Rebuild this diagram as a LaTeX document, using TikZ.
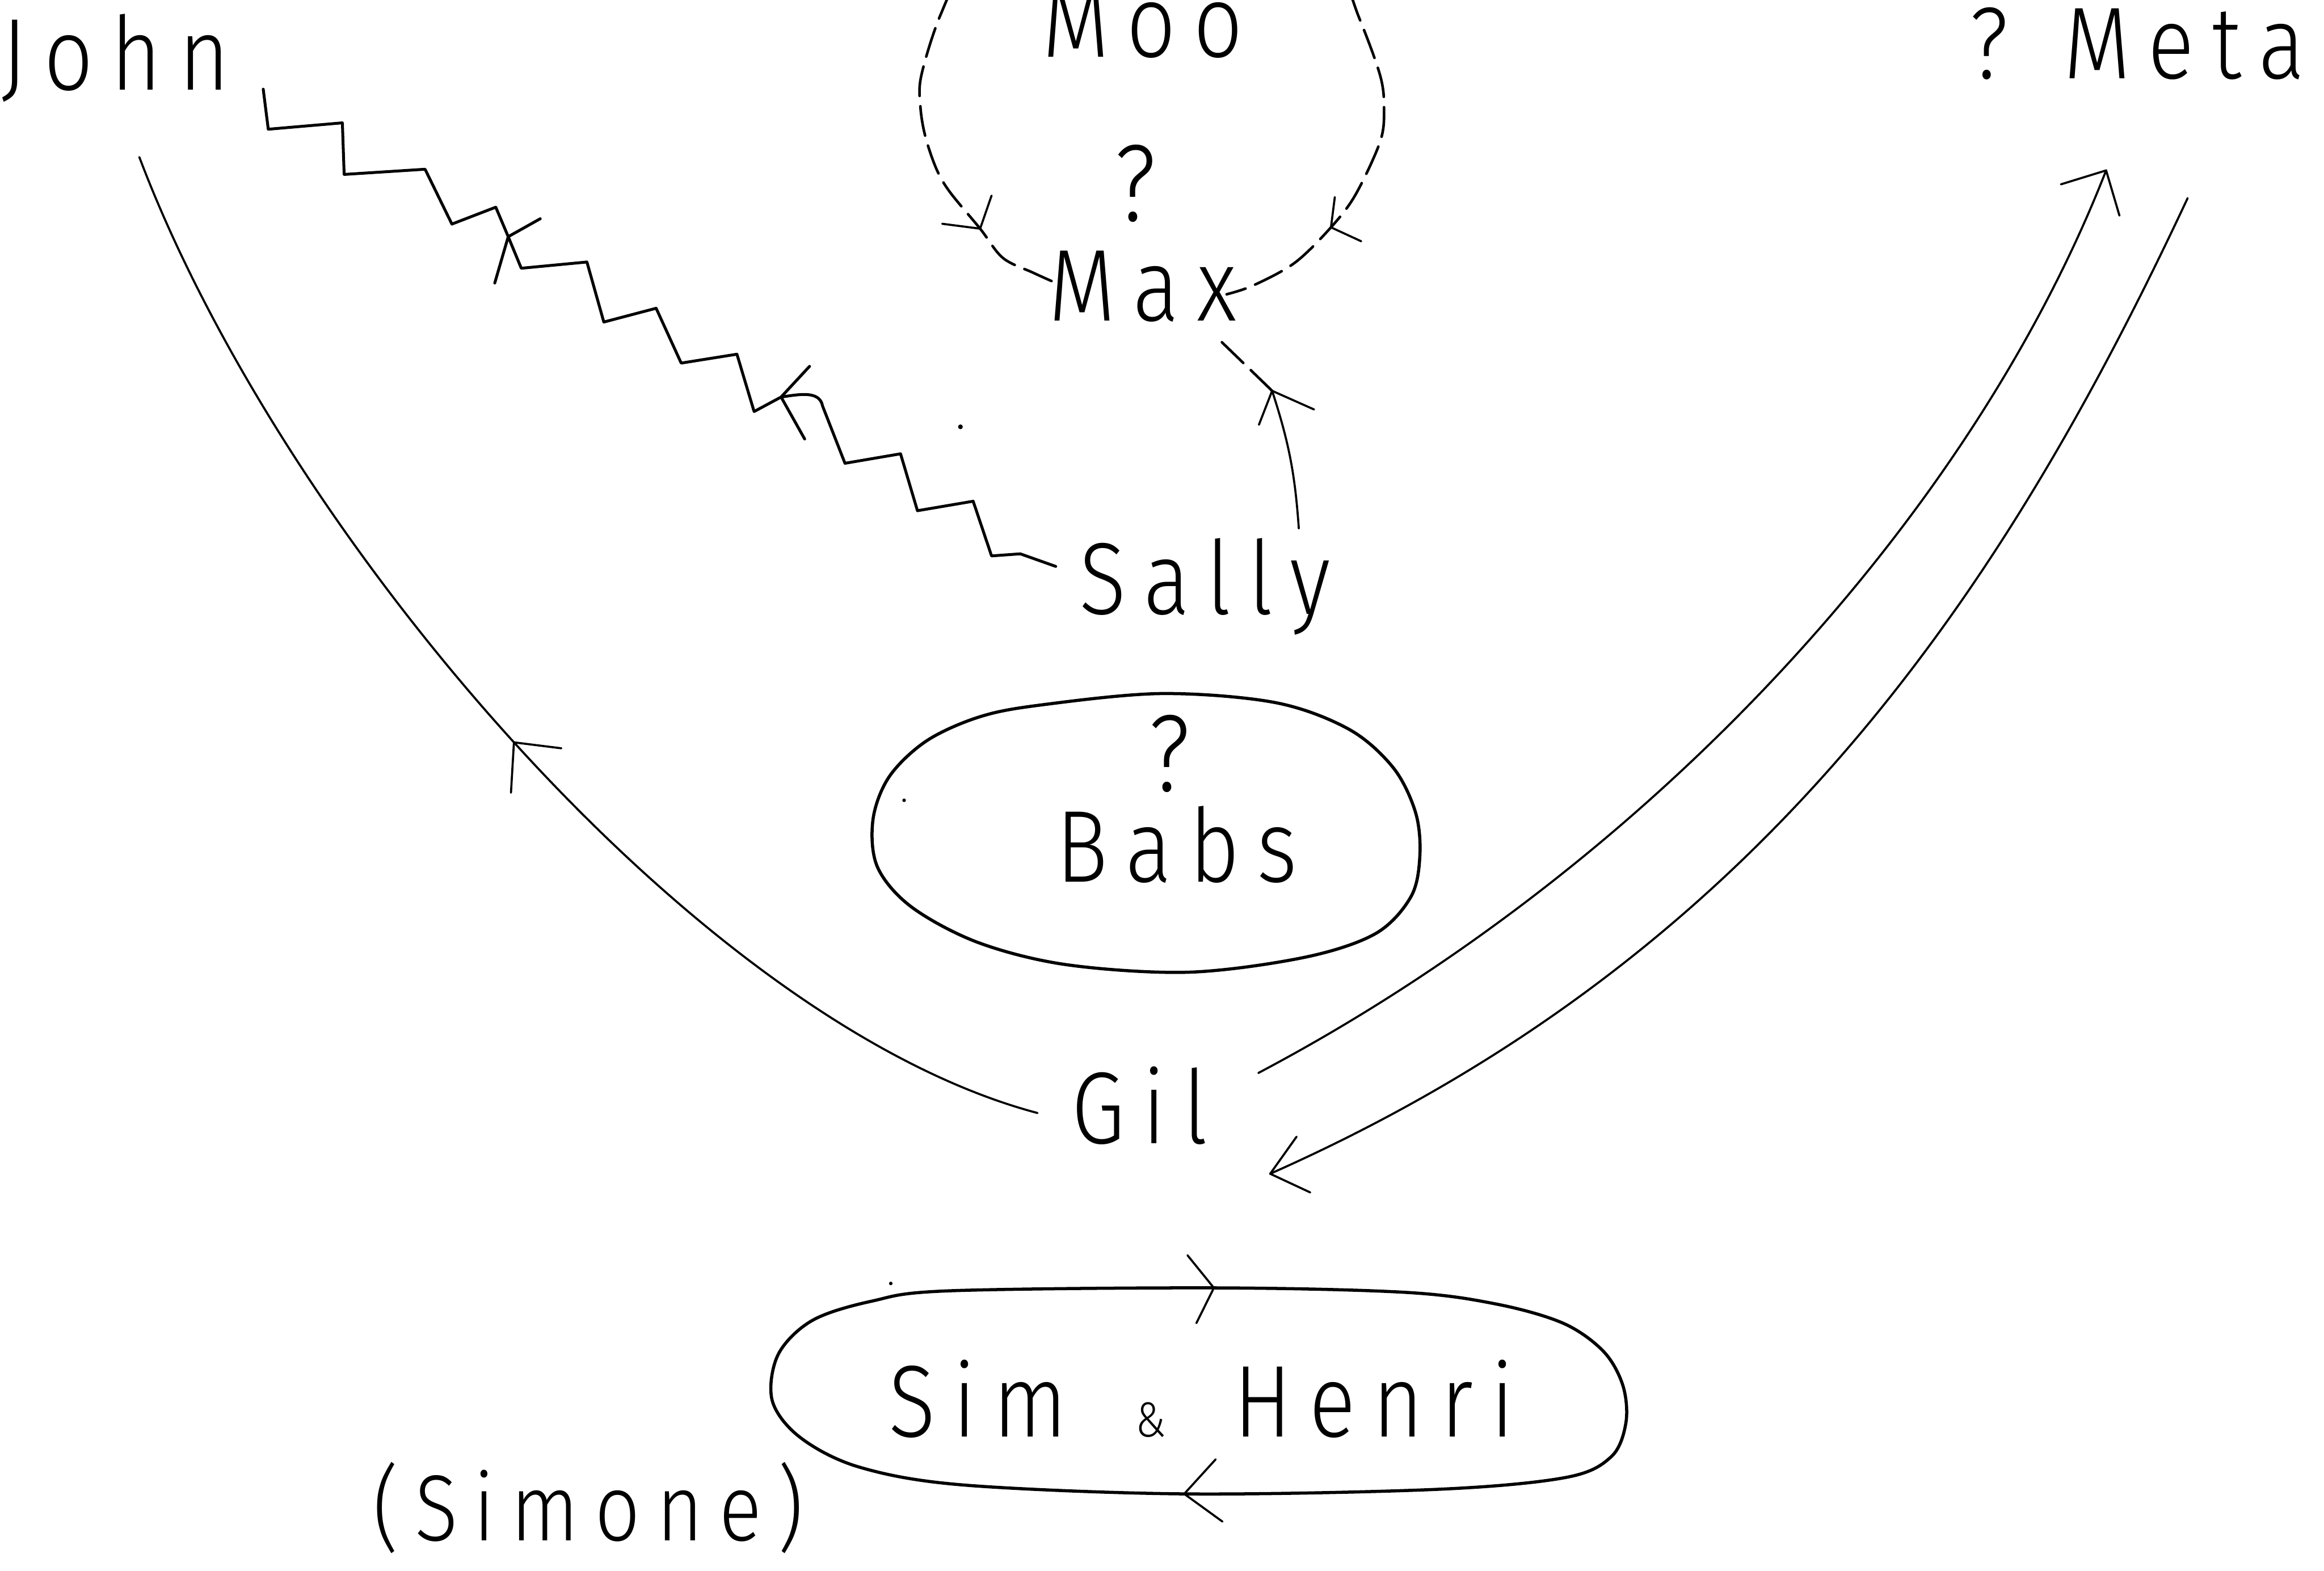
\documentclass[tikz,border=0pt]{standalone}
\usepackage{fontspec}
\setmainfont{Fira Sans Light}[LetterSpace=17,FakeStretch=0.85]
\begin{document}
\begin{tikzpicture}[x=0.01cm,y=0.01cm,
  lbl/.style={font=\fontsize{19.6}{22}\selectfont, inner sep=0pt, anchor=base,
              text height=0.48cm, text depth=0pt},
  qmark/.style={font=\fontsize{21}{22}\selectfont, inner sep=0pt, anchor=base,
              text height=0.4cm, text depth=0pt},
  conn/.style={line width=0.4pt, line cap=round, line join=round},
  zig/.style={line width=0.55pt, line cap=round, line join=round},
  dsh/.style={line width=0.5pt, line cap=round, dash pattern=on 5.7pt off 2pt},
  blob/.style={line width=0.6pt, line join=round}]
\useasboundingbox (0,0) rectangle (1568,1060);
\clip (0,0) rectangle (1568,1060);

% labels
\node[lbl] (john) at (78,999.4) {John};
\node[lbl] (moo) at (771,1021.6) {Moo};
\node[qmark] (maxq) at (766,911) {?};
\node[lbl] (max) at (771,843.5) {Max};
\node[lbl] (sally) at (813,645.5) {Sally};
\node[qmark] (babsq) at (789,526) {?};
\node[lbl] (babs) at (794,465) {Babs};
\node[lbl] (gil) at (769,288.5) {Gil};
\node[lbl] (simhenri) at (810.6,90.5) {Sim\hspace{13pt}{\fontsize{9.5}{10}\selectfont\&}\hspace{13pt}Henri};
\node[lbl, font=\fontsize{18}{20}\selectfont] (simone) at (397,20.6) {(Simone)};
\node[lbl] (meta) at (1442,1007) {? Meta};

% outline round Babs
\begin{scope}[shift={(babs.center)}]
\draw[blob] plot[smooth cycle, tension=0.55] coordinates {
  (-94,95) (-11,103) (66,97) (116,79) (146,53) (161,23) (164,-6) (158,-34)
  (134,-59) (86,-75) (8,-85) (-74,-80) (-134,-65) (-179,-41) (-202,-14)
  (-205,18) (-194,47) (-169,71) (-134,87)};
\end{scope}

% loop round Sim & Henri
\begin{scope}[shift={(simhenri.center)}]
\draw[blob] plot[smooth cycle, tension=0.55] coordinates {
  (-170.6,74.5) (8.4,76.5) (137.4,73.5) (199.4,65.5) (244.4,52.5) (271.4,33.5)
  (284.4,10.5) (286.4,-14.5) (276.4,-37.5) (245.4,-51.5) (157.4,-59.5)
  (-11.6,-62.5) (-160.6,-56.5) (-230.6,-44.5) (-270.6,-24.5) (-289.6,0.5)
  (-285.6,31.5) (-262.6,54.5) (-222.6,67.5)};
\coordinate (shTop) at (8.4,76.5);
\coordinate (shBot) at (-11.6,-62.5);
\end{scope}
\draw[conn] (shTop) ++(-17.8,22) -- (shTop) -- ++(-11.8,-23.8);
\draw[conn] (shBot) ++(21.2,23.3) -- (shBot) -- ++(25.8,-18.7);

% Gil to John
\coordinate (gj0) at ([shift={(-69,-3.5)}]gil.center);
\coordinate (gj1) at ([shift={(16,-69.4)}]john.center);
\draw[conn] (gj0) .. controls (470,370) and (190,700) .. (gj1);
\coordinate (gjTip) at (346.75,559.1);
\draw[conn] (gjTip) ++(32,-4) -- (gjTip) -- ++(-2,-34);

% Sally to John, zigzag
\coordinate (sj0) at ([shift={(-100.7,8.3)}]sally.center);
\coordinate (sj1) at ([shift={(99.6,-23.6)}]john.center);
\coordinate (sjTipA) at (527,792.1);
\coordinate (sjTipB) at (342.9,900.3);
\draw[zig] (sj0) -- (688.4,686.3) -- (669,684.9) -- (656.6,721.8) -- (619,715.4)
  -- (607.6,753.8) -- (570.1,747.4) -- (555,786) to[out=100,in=8] (sjTipA)
  -- (508.8,782.3) -- (497.2,821) -- (459.6,815) -- (442.7,852) -- (407.4,842.7)
  -- (396,883.2) -- (351.7,879) -- (sjTipB) -- (334.5,920.2) -- (304.9,908.8)
  -- (286.8,945.8) -- (232.2,942.3) -- (231,977.1) -- (181,972.8) -- (sj1);
\draw[zig] (sjTipA) ++(19.2,20.7) -- (sjTipA) -- ++(15.9,-28.3);
\draw[zig] (sjTipB) ++(21.6,12.1) -- (sjTipB) -- ++(-9.1,-31.3);

% Sally to Max
\coordinate (sm0) at ([shift={(63.3,33.9)}]sally.center);
\coordinate (smTip) at (858.3,796.3);
\coordinate (sm1) at ([shift={(49,-34.2)}]max.center);
\draw[conn] (sm0) to[out=94,in=-72] (smTip);
\draw[conn] (smTip) ++(-8.9,-22.9) -- (smTip) -- ++(28.3,-12.6);
\draw[dsh] (smTip) -- (sm1);

% Moo to Max, both sides
\coordinate (mooTop) at ([shift={(6,92)}]moo.center);
\coordinate (maxL) at ([shift={(-58.5,1.5)}]max.center);
\coordinate (maxR) at ([shift={(56.6,-6.1)}]max.center);
\coordinate (mlTip) at (661.3,905.7);
\coordinate (mrTip) at (898,906.6);
\draw[dsh] plot[smooth, tension=0.55] coordinates {(mooTop) (700,1124) (655,1088)
  (634.5,1049.8) (621.6,1009) (621,988) (624.3,968) (631.8,946) (640.9,930.4)
  (mlTip) (676.6,886) (697,876) (maxL)};
\draw[dsh] plot[smooth, tension=0.55] coordinates {(mooTop) (854,1124) (899,1088)
  (917,1048) (931.2,1009) (933.8,986.7) (931.2,964.5) (914.6,928.7) (mrTip)
  (873.6,882.7) (845.6,867.4) (maxR)};
\draw[conn] (mlTip) ++(7.7,22.3) -- (mlTip) -- ++(-25.6,3.3);
\draw[conn] (mrTip) ++(2.6,20.4) -- (mrTip) -- ++(20.4,-9.4);

% Gil to Meta and back
\coordinate (gm0) at ([shift={(80,23.5)}]gil.center);
\coordinate (gm1) at ([shift={(-21,-86)}]meta.center);
\draw[conn] (gm0) .. controls (1114,476) and (1330,712) .. (gm1);
\draw[conn] (gm1) ++(-30.5,-9.4) -- (gm1) -- ++(9,-30.5);
\coordinate (mg0) at ([shift={(34,-104.7)}]meta.center);
\coordinate (mg1) at ([shift={(88,-44.5)}]gil.center);
\draw[conn] (mg0) .. controls (1348.8,654.5) and (1186,413.8) .. (mg1);
\draw[conn] (mg1) ++(17.8,25) -- (mg1) -- ++(27,-12.6);

% specks
\fill (648,772) circle (1.6);
\fill (610,520) circle (1.2);
\fill (601,194) circle (1.2);
\end{tikzpicture}
\end{document}
